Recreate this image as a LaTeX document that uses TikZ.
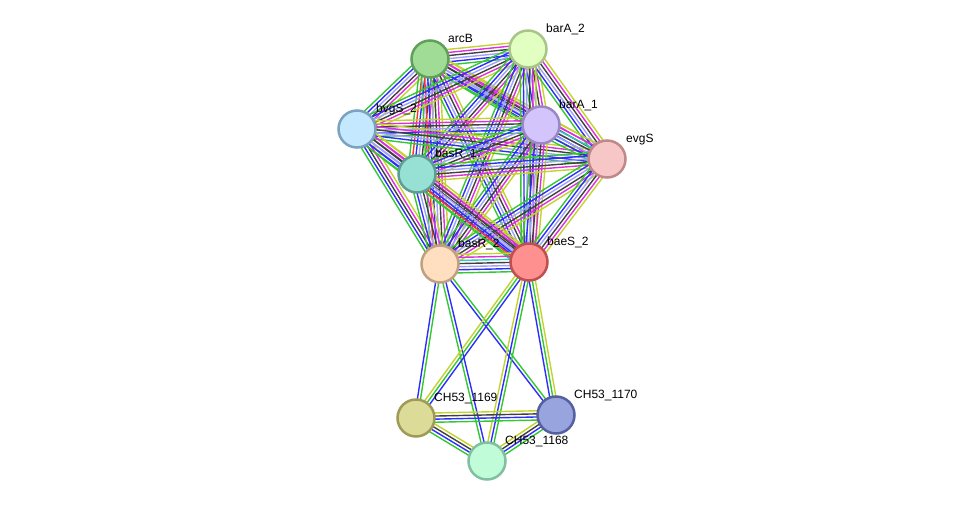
\documentclass[tikz,border=0pt]{standalone}
\usepackage{fontspec}
\setmainfont{Liberation Sans}
\usetikzlibrary{calc}
\definecolor{cGreen}{HTML}{33C833}
\definecolor{cRed}{HTML}{FF3030}
\definecolor{cBlue}{HTML}{2E2EFA}
\definecolor{cLB}{HTML}{A0A0FF}
\definecolor{cBlack}{HTML}{404040}
\definecolor{cCyan}{HTML}{30C8C8}
\definecolor{cMag}{HTML}{DC30DC}
\definecolor{cYel}{HTML}{C4D22E}
\pgfdeclarelayer{bg}\pgfsetlayers{bg,main}
\newcommand\bundle[3]{%
  \xdef\nb{0}%
  \foreach \c in {#3}{\xdef\nb{\the\numexpr\nb+1\relax}}%
  \foreach \c [count=\i] in {#3}{%
    \pgfmathsetmacro\off{(\i-(\nb+1)/2)*3.1}%
    \draw[edge,draw=\c] ($(#1.center)!\off pt!90:(#2.center)$) -- ($(#2.center)!\off pt!-90:(#1.center)$);}%
}
\begin{document}
\begin{tikzpicture}[x=1pt,y=-1pt,
  prot/.style={circle,minimum size=37pt,line width=2.5pt,inner sep=0pt},
  lbl/.style={font=\fontsize{12}{14}\selectfont,anchor=base west,inner sep=0pt},
  edge/.style={line width=1.4pt}]
\useasboundingbox (0,0) rectangle (975,507);
\node[prot,fill={rgb,255:red,160;green,220;blue,150},draw={rgb,255:red,95;green,160;blue,90}] (arcB) at (430,59) {};
\node[prot,fill={rgb,255:red,224;green,255;blue,192},draw={rgb,255:red,168;green,196;blue,136}] (barAb) at (528,49) {};
\node[prot,fill={rgb,255:red,196;green,232;blue,253},draw={rgb,255:red,123;green,163;blue,189}] (bvgS) at (357,129) {};
\node[prot,fill={rgb,255:red,212;green,196;blue,252},draw={rgb,255:red,154;green,136;blue,196}] (barAa) at (541,125) {};
\node[prot,fill={rgb,255:red,247;green,199;blue,199},draw={rgb,255:red,192;green,136;blue,136}] (evgS) at (607,159) {};
\node[prot,fill={rgb,255:red,150;green,224;blue,212},draw={rgb,255:red,94;green,158;blue,146}] (basRa) at (417,174) {};
\node[prot,fill={rgb,255:red,255;green,223;blue,192},draw={rgb,255:red,192;green,160;blue,128}] (basRb) at (440,264) {};
\node[prot,fill={rgb,255:red,255;green,144;blue,144},draw={rgb,255:red,192;green,80;blue,80}] (baeS) at (529,262) {};
\node[prot,fill={rgb,255:red,221;green,219;blue,152},draw={rgb,255:red,160;green,154;blue,88}] (chA) at (416,418) {};
\node[prot,fill={rgb,255:red,152;green,164;blue,222},draw={rgb,255:red,86;green,96;blue,160}] (chB) at (556,415) {};
\node[prot,fill={rgb,255:red,192;green,252;blue,216},draw={rgb,255:red,128;green,192;blue,160}] (chC) at (487,461) {};
\node[lbl] (arcBl) at ($(arcB)+(18,-17)$) {arcB};
\node[lbl] (barAbl) at ($(barAb)+(18,-17)$) {barA\_2};
\node[lbl] (bvgSl) at ($(bvgS)+(19,-17)$) {bvgS\_2};
\node[lbl] (barAal) at ($(barAa)+(18,-17)$) {barA\_1};
\node[lbl] (evgSl) at ($(evgS)+(19,-17)$) {evgS};
\node[lbl] (basRal) at ($(basRa)+(18,-17)$) {basR\_1};
\node[lbl] (basRbl) at ($(basRb)+(18,-17)$) {basR\_2};
\node[lbl] (baeSl) at ($(baeS)+(18,-17)$) {baeS\_2};
\node[lbl] (chAl) at ($(chA)+(18,-17)$) {CH53\_1169};
\node[lbl] (chBl) at ($(chB)+(18,-17)$) {CH53\_1170};
\node[lbl] (chCl) at ($(chC)+(18,-17)$) {CH53\_1168};
\begin{pgfonlayer}{bg}
\bundle{arcB}{barAb}{cGreen,cBlue,cLB,cBlack,cMag,cYel}
\bundle{arcB}{bvgS}{cGreen,cBlue,cLB,cBlack,cMag,cYel}
\bundle{arcB}{barAa}{cGreen,cBlue,cLB,cBlack,cMag,cYel}
\bundle{arcB}{evgS}{cGreen,cBlue,cLB,cBlack,cMag,cYel}
\bundle{arcB}{basRa}{cGreen,cRed,cBlue,cLB,cBlack,cMag,cYel}
\bundle{arcB}{basRb}{cGreen,cRed,cBlue,cLB,cBlack,cMag,cYel}
\bundle{arcB}{baeS}{cGreen,cBlue,cLB,cBlack,cMag,cYel}
\bundle{barAb}{bvgS}{cGreen,cBlue,cLB,cBlack,cMag,cYel}
\bundle{barAb}{barAa}{cGreen,cBlue,cLB,cBlack,cMag,cYel}
\bundle{barAb}{evgS}{cGreen,cBlue,cLB,cBlack,cMag,cYel}
\bundle{barAb}{basRa}{cGreen,cBlue,cLB,cBlack,cMag,cYel}
\bundle{barAb}{basRb}{cGreen,cBlue,cLB,cBlack,cMag,cYel}
\bundle{barAb}{baeS}{cGreen,cBlue,cLB,cBlack,cMag,cYel}
\bundle{bvgS}{barAa}{cGreen,cBlue,cLB,cBlack,cMag,cYel}
\bundle{bvgS}{evgS}{cGreen,cBlue,cLB,cBlack,cMag,cYel}
\bundle{bvgS}{basRa}{cGreen,cBlue,cLB,cBlack,cMag,cYel}
\bundle{bvgS}{basRb}{cGreen,cBlue,cBlack,cMag,cYel}
\bundle{bvgS}{baeS}{cGreen,cBlue,cLB,cBlack,cMag,cYel}
\bundle{barAa}{evgS}{cGreen,cBlue,cLB,cBlack,cCyan,cMag,cYel}
\bundle{barAa}{basRa}{cGreen,cBlue,cLB,cBlack,cMag,cYel}
\bundle{barAa}{basRb}{cGreen,cBlue,cLB,cBlack,cMag,cYel}
\bundle{barAa}{baeS}{cGreen,cBlue,cLB,cBlack,cMag,cYel}
\bundle{evgS}{basRa}{cGreen,cBlue,cLB,cBlack,cMag,cYel}
\bundle{evgS}{basRb}{cGreen,cBlue,cLB,cBlack,cMag,cYel}
\bundle{evgS}{baeS}{cGreen,cBlue,cLB,cBlack,cMag,cYel}
\bundle{basRa}{basRb}{cGreen,cBlue,cLB,cBlack,cMag,cYel}
\bundle{basRa}{baeS}{cGreen,cRed,cBlue,cLB,cBlack,cMag,cYel}
\bundle{basRb}{baeS}{cGreen,cBlue,cLB,cBlack,cCyan,cMag,cYel}
\bundle{basRb}{chA}{cBlue,cGreen}
\bundle{basRb}{chC}{cGreen,cBlue}
\bundle{basRb}{chB}{cBlue,cGreen}
\bundle{baeS}{chA}{cYel,cGreen,cBlue}
\bundle{baeS}{chC}{cYel,cBlue,cGreen}
\bundle{baeS}{chB}{cBlue,cGreen,cYel}
\bundle{chA}{chB}{cGreen,cBlue,cBlack,cYel}
\bundle{chA}{chC}{cGreen,cBlue,cBlack,cYel}
\bundle{chC}{chB}{cGreen,cBlue,cBlack,cYel}
\end{pgfonlayer}
\end{tikzpicture}
\end{document}
